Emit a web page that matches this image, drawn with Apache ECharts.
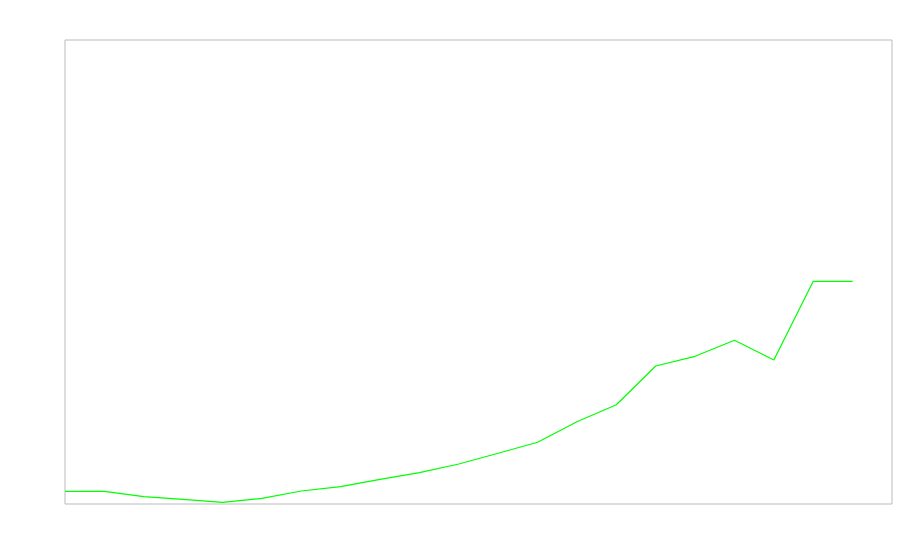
<!DOCTYPE html>
<html>
<head>
<meta charset="utf-8">
<script src="https://cdn.jsdelivr.net/npm/echarts@6/dist/echarts.min.js"></script>
<style>html,body{margin:0;padding:0;background:#fff}#c{width:900px;height:560px}</style>
</head>
<body>
<div id="c"></div>
<script>
var categories = ['1','2','3','4','5','6','7','8','9','10','11','12','13','14','15','16','17','18','19','20','21','22'];
var values = [27.4, 27.4, 15.7, 10.1, 3.7, 12.3, 28, 37.3, 53.2, 67.5, 86.2, 109.3, 133, 177.4, 214, 297.4, 318.3, 352.8, 310.3, 480, 480];

var chart = echarts.init(document.getElementById('c'), null, {renderer: 'canvas'});
chart.setOption({
  animation: false,
  grid: {left: 65, top: 40, right: 8, bottom: 56, show: true, borderColor: '#bbbbbb', borderWidth: 1, backgroundColor: 'transparent'},
  xAxis: {type: 'category', data: categories, boundaryGap: false, show: false},
  yAxis: {type: 'value', min: 0, max: 1000, show: false},
  series: [{
    type: 'line',
    data: values,
    showSymbol: false,
    symbol: 'none',
    lineStyle: {color: '#00ff00', width: 1.2},
    itemStyle: {color: '#00ff00'}
  }]
});
</script>
</body>
</html>
